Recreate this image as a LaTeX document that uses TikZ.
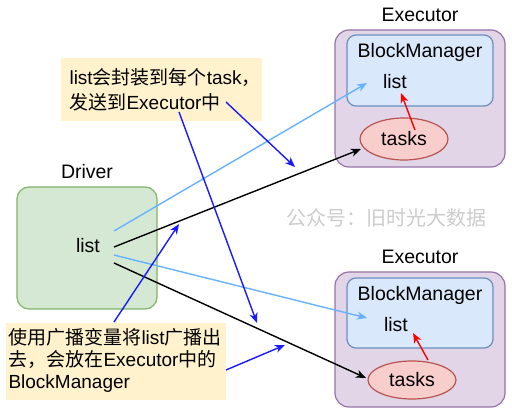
\documentclass[tikz,border=0pt]{standalone}
\usepackage{fontspec}
\setmainfont{Liberation Sans}
\newfontfamily\cjk{Noto Sans CJK SC}
\usetikzlibrary{arrows.meta,shapes.geometric}
\definecolor{grnF}{HTML}{D5E8D4}\definecolor{grnS}{HTML}{82B366}
\definecolor{purF}{HTML}{E1D5E7}\definecolor{purS}{HTML}{9673A6}
\definecolor{bluF}{HTML}{DAE8FC}\definecolor{bluS}{HTML}{6C8EBF}
\definecolor{redF}{HTML}{F8CECC}\definecolor{redS}{HTML}{B85450}
\definecolor{noteF}{HTML}{FFF2CC}
\definecolor{lblue}{HTML}{66B2FF}
\definecolor{dblue}{HTML}{1A1AFF}
\definecolor{wm}{HTML}{CCCCCC}
\begin{document}
\begin{tikzpicture}[x=1pt,y=-1pt,
  every node/.style={font=\fontsize{19.5}{23}\selectfont},
  drvbox/.style={draw=grnS,fill=grnF,line width=1.2pt,rounded corners=12pt,minimum width=140pt,minimum height=122pt},
  exbox/.style={draw=purS,fill=purF,line width=1.2pt,rounded corners=14pt,minimum width=170pt},
  bmbox/.style={draw=bluS,fill=bluF,line width=1.2pt,rounded corners=9pt,minimum width=146pt},
  taskell/.style={ellipse,draw=redS,fill=redF,line width=1.2pt,minimum width=88pt,minimum height=40pt,inner sep=0pt},
  notebox/.style={fill=noteF,draw=none},
  tip/.style={-{Stealth[length=10pt,width=8pt,inset=3pt]}},
  lbarrow/.style={tip,draw=lblue,line width=1.4pt},
  bkarrow/.style={tip,draw=black,line width=1.4pt},
  rdarrow/.style={tip,draw=red,line width=1.4pt},
  dbarrow/.style={tip,draw=dblue,line width=1.4pt},
]
\useasboundingbox[fill=white] (0,0) rectangle (512,414);
% watermark
\node[text=wm,font=\cjk\fontsize{20}{24}\selectfont] (wmk) at (386,218) {公众号：旧时光大数据};
% Driver
\node (drvlbl) at (87,172) {Driver};
\node[drvbox] (drv) at (87,248) {};
\node (dlist) at (88,246) {list};
% Executor 1
\node (ex1lbl) at (420,15) {Executor};
\node[exbox,minimum height=137pt] (ex1) at (420,98.5) {};
\node[bmbox,minimum height=71pt] (bm1) at (420,70.5) {};
\node (bm1t) at (420,52) {BlockManager};
\node (list1) at (395,82) {list};
\node[taskell,minimum height=42pt] (tasks1) at (404,139) {tasks};
% Executor 2
\node (ex2lbl) at (420,257) {Executor};
\node[exbox,minimum height=135pt] (ex2) at (420,339.5) {};
\node[bmbox,minimum height=70pt] (bm2) at (420,313) {};
\node (bm2t) at (420,295) {BlockManager};
\node (list2) at (396,325) {list};
\node[taskell,minimum height=38pt] (tasks2) at (412,380) {tasks};
% notes
\node[notebox,minimum width=201pt,minimum height=63pt] (n1) at (161.5,89.5) {};
\node[anchor=west,align=left,font=\fontsize{19}{25}\selectfont] (n1t) at (66,89.5) {list{\cjk 会封装到每个}task{\cjk ，}\\{\cjk 发送到}Executor{\cjk 中}};
\node[notebox,minimum width=220pt,minimum height=77pt] (n2) at (116,361.5) {};
\node[anchor=west,align=left,font=\fontsize{19}{22}\selectfont] (n2t) at (5,360.5) {{\cjk 使用广播变量将}list{\cjk 广播出}\\{\cjk 去，会放在}Executor{\cjk 中的}\\BlockManager};
% coordinates
\coordinate (lbA) at (114,231); \coordinate (lbAe) at (367,83);
\coordinate (lbB) at (114,255); \coordinate (lbBe) at (367,318);
\coordinate (bkA) at (114,247); \coordinate (bkAe) at (361,149);
\coordinate (bkB) at (114,263); \coordinate (bkBe) at (366,378);
\coordinate (rdA) at (415,130); \coordinate (rdAe) at (401,93);
\coordinate (rdB) at (428,360); \coordinate (rdBe) at (413,333);
\coordinate (dbA) at (179,112); \coordinate (dbAe) at (257,323);
\coordinate (dbB) at (226,102); \coordinate (dbBe) at (295,167);
\coordinate (dbC) at (114,322); \coordinate (dbCe) at (179,224);
\coordinate (dbD) at (226,370); \coordinate (dbDe) at (285,345);
% arrows
\draw[lbarrow] (lbA) -- (lbAe);
\draw[lbarrow] (lbB) -- (lbBe);
\draw[bkarrow] (bkA) -- (bkAe);
\draw[bkarrow] (bkB) -- (bkBe);
\draw[rdarrow] (rdA) -- (rdAe);
\draw[rdarrow] (rdB) -- (rdBe);
\draw[dbarrow] (dbA) -- (dbAe);
\draw[dbarrow] (dbB) -- (dbBe);
\draw[dbarrow] (dbC) -- (dbCe);
\draw[dbarrow] (dbD) -- (dbDe);
\end{tikzpicture}
\end{document}
